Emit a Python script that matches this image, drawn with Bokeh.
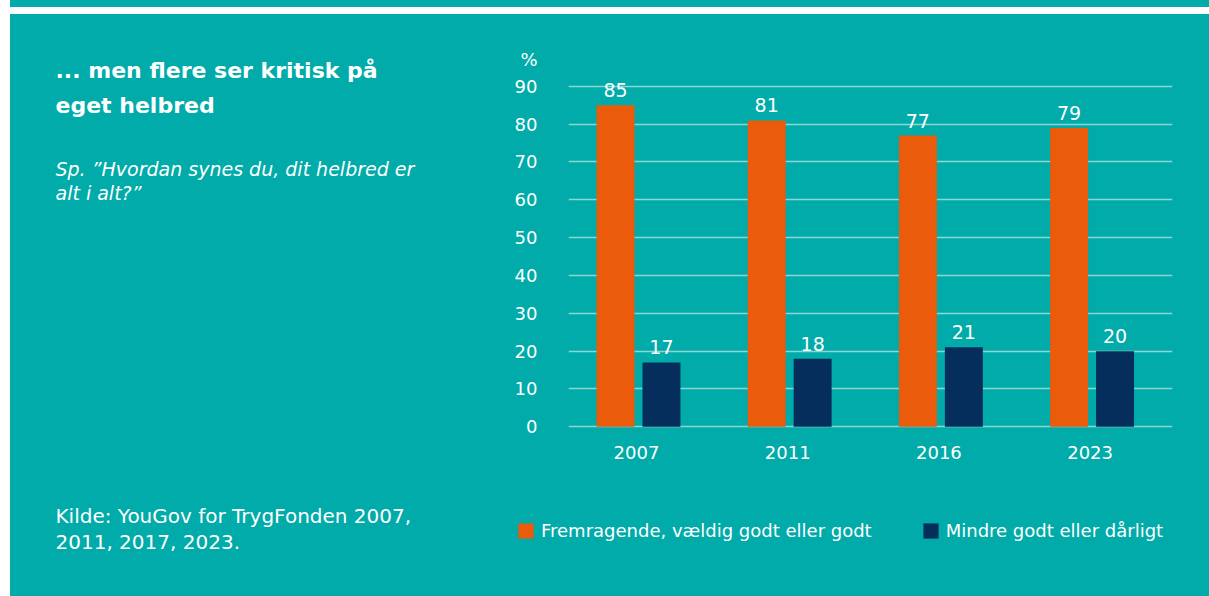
from bokeh.plotting import figure
from bokeh.models import (ColumnDataSource, Range1d, FixedTicker, LabelSet, Label,
                          Legend, LegendItem, Spacer)
from bokeh.layouts import column, row
from bokeh.transform import dodge
from bokeh.core.properties import value
from bokeh.embed import file_html
from bokeh.resources import INLINE

# ---- data ----
years = ["2007", "2011", "2016", "2023"]
good = [85, 81, 77, 79]
poor = [17, 18, 21, 20]
series_names = ["Fremragende, vældig godt eller godt", "Mindre godt eller dårligt"]
y_ticks = [0, 10, 20, 30, 40, 50, 60, 70, 80, 90]
unit_label = "%"

title_lines = ["... men flere ser kritisk på", "eget helbred"]
subtitle_lines = ["Sp. \u201dHvordan synes du, dit helbred er", "alt i alt?\u201d"]
source_lines = ["Kilde: YouGov for TrygFonden 2007,", "2011, 2017, 2023."]

# ---- style ----
TEAL = "#00ABA9"
ORANGE = "#EA5B0C"
NAVY = "#062E5C"
GRID = "#8AD6D3"
WHITE = "#FFFFFF"
FONT = "DejaVu Sans"

# page geometry (layout origin at page 0,0)
MAIN_X, MAIN_Y = 10, 14
MAIN_W, MAIN_H = 1199, 582
LEFT_W = 498                    # left text panel: page x 10..508
CH_X = MAIN_X + LEFT_W          # chart figure page x = 508
CH_W = MAIN_W - LEFT_W          # 701
CH_H = 476                      # chart figure page y 14..490
LEG_H = MAIN_H - CH_H           # legend figure page y 490..596

FL, FR, FT, FB = 568, 1172, 55, 428  # chart frame edges (page px)
PX_PER_X = 151.2
X0_PAGE = 636.0
PX_PER_Y = 3.783
Y0_PAGE = 426.3
x_start = (FL - X0_PAGE) / PX_PER_X
x_end = (FR - X0_PAGE) / PX_PER_X
y_start = (Y0_PAGE - FB) / PX_PER_Y
y_end = (Y0_PAGE - FT) / PX_PER_Y
UNIT_TICK = (Y0_PAGE - 59) / PX_PER_Y   # where the "%" unit label sits

src = ColumnDataSource(dict(x=list(range(len(years))), good=good, poor=poor,
                            good_txt=[str(v) for v in good],
                            poor_txt=[str(v) for v in poor]))

common = dict(output_backend="svg", toolbar_location=None,
              background_fill_color=TEAL, border_fill_color=TEAL)

p = figure(width=CH_W, height=CH_H,
           x_range=Range1d(x_start, x_end), y_range=Range1d(y_start, y_end),
           min_border_left=FL - CH_X, min_border_right=MAIN_X + MAIN_W - FR,
           min_border_top=FT - MAIN_Y, min_border_bottom=MAIN_Y + CH_H - FB, **common)
p.outline_line_color = None
p.frame_align = False

OFF_G = -0.139
OFF_P = 0.165
BW = 0.251
p.vbar(x=dodge("x", OFF_G, range=p.x_range), top="good", width=BW, source=src,
       fill_color=ORANGE, line_color=None)
p.vbar(x=dodge("x", OFF_P, range=p.x_range), top="poor", width=BW, source=src,
       fill_color=NAVY, line_color=None)

for col, off in (("good", OFF_G), ("poor", OFF_P)):
    p.add_layout(LabelSet(x=dodge("x", off, range=p.x_range), y=col, text=col + "_txt",
                          source=src, y_offset=8, text_align="center",
                          text_baseline="alphabetic", text_color=WHITE,
                          text_font=value(FONT), text_font_size="19px"))

# axes
p.xaxis.ticker = FixedTicker(ticks=list(range(len(years))))
p.xaxis.major_label_overrides = {i: y for i, y in enumerate(years)}
p.yaxis.ticker = FixedTicker(ticks=y_ticks + [UNIT_TICK])
p.yaxis.major_label_overrides = {UNIT_TICK: unit_label}
for ax in (p.xaxis[0], p.yaxis[0]):
    ax.axis_line_color = None
    ax.major_tick_line_color = None
    ax.minor_tick_line_color = None
    ax.major_tick_out = 0
    ax.major_tick_in = 0
    ax.major_label_text_color = WHITE
    ax.major_label_text_font = FONT
    ax.major_label_text_font_size = "18px"
p.xaxis.major_label_standoff = 17
p.yaxis.major_label_standoff = 31
p.xgrid.grid_line_color = None
p.ygrid.ticker = FixedTicker(ticks=y_ticks)
p.ygrid.grid_line_color = GRID
p.ygrid.grid_line_width = 1.5

# legend figure: its proxy renderers are hidden, only the legend is drawn
pl = figure(width=CH_W, height=LEG_H,
            x_range=Range1d(-2000, -2000 + CH_W), y_range=Range1d(-2000, -2000 + LEG_H),
            x_axis_location=None, y_axis_location=None, min_border=0, **common)
pl.outline_line_color = None
pl.frame_align = False
pl.xgrid.visible = False
pl.ygrid.visible = False
lr1 = pl.vbar(x="x", top="good", width=BW, source=src, fill_color=ORANGE, line_color=None)
lr2 = pl.vbar(x="x", top="poor", width=BW, source=src, fill_color=NAVY, line_color=None)
lr1.visible = False
lr2.visible = False
legend = Legend(items=[LegendItem(label=series_names[0], renderers=[lr1]),
                       LegendItem(label=series_names[1], renderers=[lr2])],
                orientation="horizontal", location=(516 - CH_X, 596 - 541),
                glyph_width=19, glyph_height=19, label_standoff=6, spacing=49,
                padding=0, margin=0, background_fill_alpha=0, border_line_alpha=0,
                click_policy="none",
                label_text_color=WHITE, label_text_font=FONT, label_text_font_size="18px")
pl.add_layout(legend, "center")

# left text figure
pt = figure(width=LEFT_W, height=MAIN_H,
            x_range=Range1d(0, LEFT_W), y_range=Range1d(MAIN_H, 0),
            x_axis_location=None, y_axis_location=None, min_border=0, **common)
pt.outline_line_color = None
pt.frame_align = False
pt.xgrid.visible = False
pt.ygrid.visible = False

DY = -7  # measured vertical correction of this panel


def add_text(txt, px, py, size, style="normal"):
    pt.add_layout(Label(x=px - MAIN_X, y=py - MAIN_Y + DY, text=txt, text_color=WHITE,
                        text_font=FONT, text_font_size=size, text_font_style=style,
                        text_align="left", text_baseline="alphabetic"))


add_text(title_lines[0], 55, 77, "22px", style="bold")
add_text(title_lines[1], 55, 112, "22px", style="bold")
add_text(subtitle_lines[0], 55, 175, "19px", style="italic")
add_text(subtitle_lines[1], 55, 199, "19px", style="italic")
add_text(source_lines[0], 55, 522, "20px")
add_text(source_lines[1], 55, 548, "20px")

top_strip = Spacer(width=MAIN_W, height=7, styles={"background-color": TEAL})

layout = column(
    row(Spacer(width=MAIN_X, height=7), top_strip),
    Spacer(width=MAIN_X + MAIN_W, height=MAIN_Y - 7),
    row(Spacer(width=MAIN_X, height=MAIN_H),
        row(pt, column(p, pl), styles={"background-color": TEAL})),
)

with open("out.html", "w") as f:
    f.write(file_html(layout, INLINE))
